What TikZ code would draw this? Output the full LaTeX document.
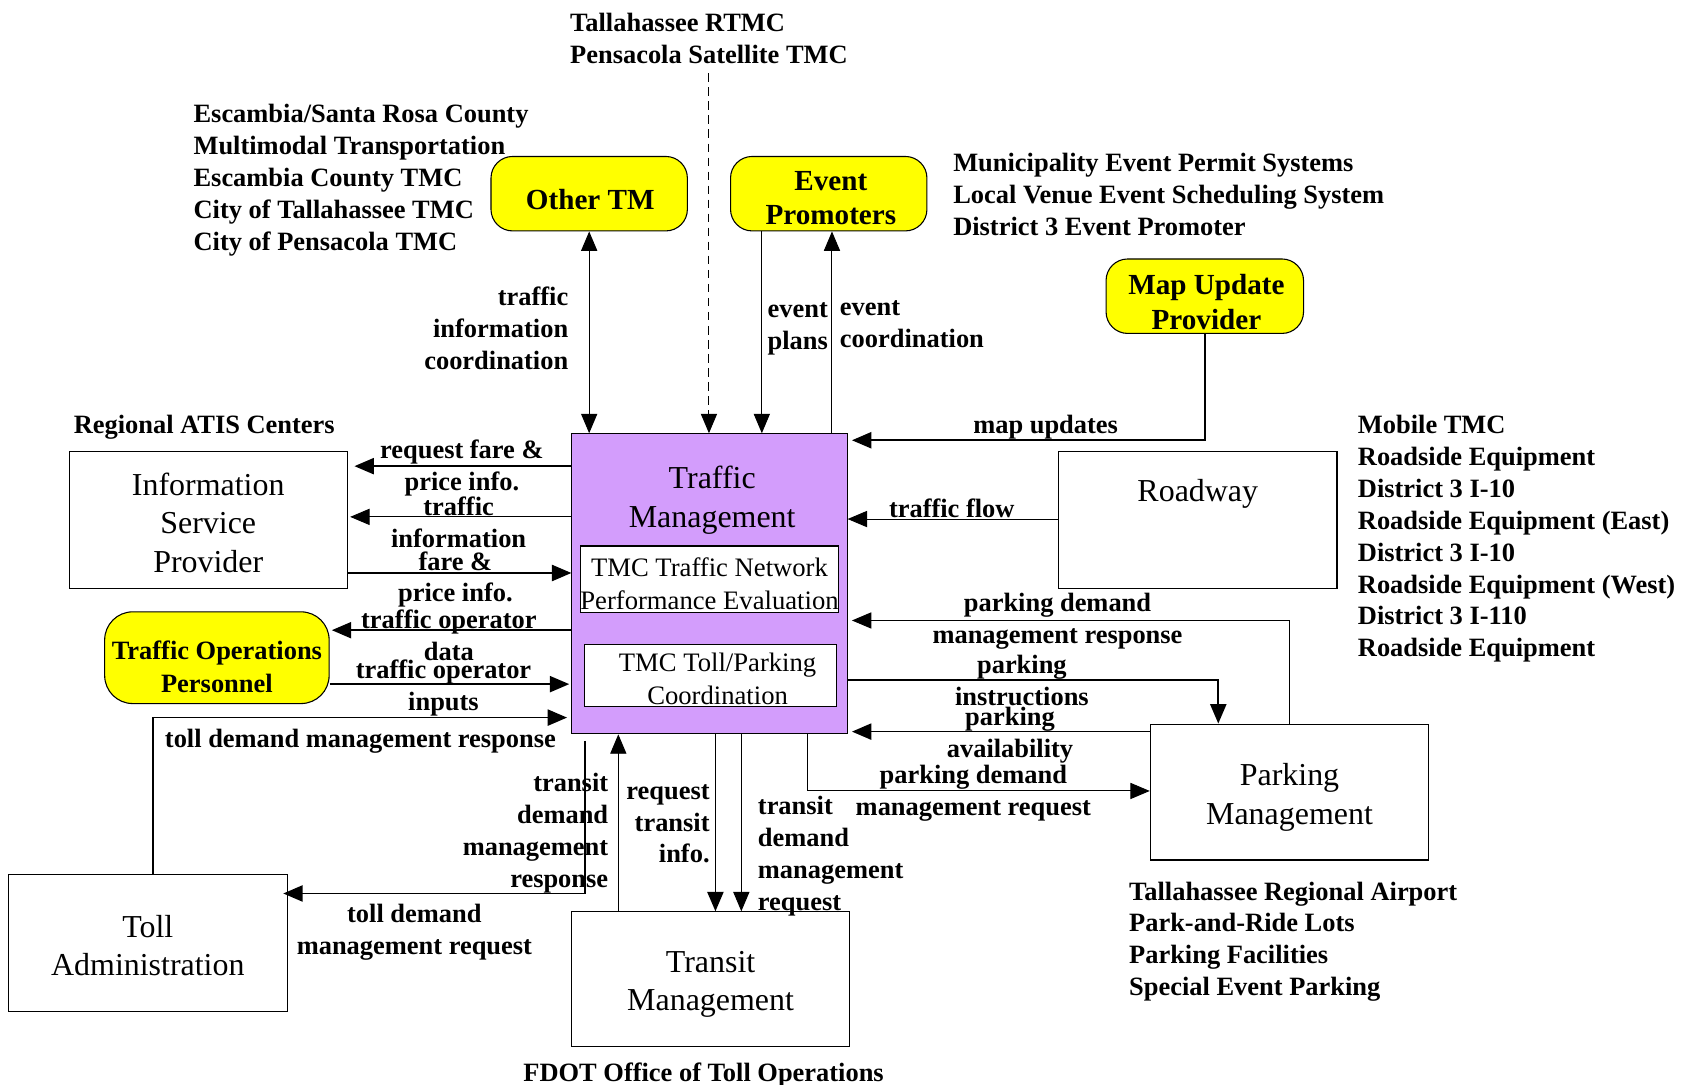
\documentclass[tikz,border=0pt]{standalone}
\usepackage{fontspec}
\setmainfont{Liberation Serif}
\usetikzlibrary{arrows.meta}
\definecolor{tmpurple}{RGB}{211,157,252}
\definecolor{ylw}{RGB}{255,255,0}
\tikzset{
  box/.style={draw, line width=0.5pt, inner sep=0pt},
  btext/.style={inner sep=0pt, align=center, font=\fontsize{14.8}{17.75}\selectfont},
  subtext/.style={inner sep=0pt, align=center, font=\fontsize{12.35}{15}\selectfont},
  ybox/.style={draw, fill=ylw, rounded corners=10pt, line width=0.5pt, inner sep=0pt},
  ytext/.style={inner sep=0pt, align=center, font=\fontsize{13.5}{16}\selectfont\bfseries},
  lab/.style={inner sep=0pt, yshift=-1.5pt, font=\fontsize{12.25}{14.75}\selectfont\bfseries},
  arr/.style={-{Triangle[length=9pt,width=7.5pt]}, line width=0.8pt},
  thinarr/.style={-{Triangle[length=9pt,width=7.5pt]}, line width=0.45pt},
  dblarr/.style={{Triangle[length=9pt,width=7.5pt]}-{Triangle[length=9pt,width=7.5pt]}, line width=0.45pt},
}
\begin{document}
\begin{tikzpicture}[x=0.5pt,y=-0.5pt]
\useasboundingbox (0,0) rectangle (1568,1005);

% ---- boxes ----
\node[box, fill=tmpurple, minimum width=127.5pt, minimum height=139pt] (tm) at (657.5,541) {};
\node[btext] (tmtitle) at (660,463.5) {Traffic\\Management};
\node[box, fill=white, minimum width=119.5pt, minimum height=31pt] (sub1) at (657.5,537) {};
\node[subtext] (sub1t) at (657.5,541) {TMC Traffic Network\\Performance Evaluation};
\node[box, fill=white, minimum width=116.5pt, minimum height=29pt] (sub2) at (658.5,626) {};
\node[subtext] (sub2t) at (665,629) {TMC Toll/Parking\\Coordination};

\node[box, minimum width=129pt, minimum height=63.5pt] (isp) at (193,481.5) {};
\node[btext] (ispt) at (193,484.5) {Information\\Service\\Provider};
\node[box, minimum width=129pt, minimum height=63.5pt] (roadway) at (1110,481.5) {};
\node[btext] (roadwayt) at (1110,458) {Roadway};
\node[box, minimum width=129pt, minimum height=63.5pt] (toll) at (137,873.5) {};
\node[btext] (tollt) at (137,876) {Toll\\Administration};
\node[box, minimum width=128.5pt, minimum height=62.5pt] (transit) at (658.5,907.5) {};
\node[btext] (transitt) at (658.5,912) {Transit\\Management};
\node[box, minimum width=129pt, minimum height=63pt] (parking) at (1195,734) {};
\node[btext] (parkingt) at (1195,739) {Parking\\Management};

\node[ybox, minimum width=91pt, minimum height=34.5pt] (othertm) at (546,179.5) {};
\node[ytext] (othertmt) at (547,185) {Other TM};
\node[ybox, minimum width=91pt, minimum height=34.5pt] (evprom) at (768,179.5) {};
\node[ytext] (evpromt) at (770,183.5) {Event\\Promoters};
\node[ybox, minimum width=91.5pt, minimum height=34.5pt] (mapup) at (1116.5,274.5) {};
\node[ytext] (mapupt) at (1118,280) {Map Update\\Provider};
\node[ybox, rounded corners=13pt, minimum width=104pt, minimum height=42.5pt] (top) at (201,609.5) {};
\node[ytext, font=\fontsize{12.25}{15}\selectfont\bfseries] (topt) at (201,618) {Traffic Operations\\Personnel};

% ---- text lists ----
\node[lab, anchor=west, align=left] (tallah) at (528,32.5) {Tallahassee RTMC\\Pensacola Satellite TMC};
\node[lab, anchor=west, align=left] (escam) at (179,164) {Escambia/Santa Rosa County\\Multimodal Transportation\\Escambia County TMC\\City of Tallahassee TMC\\City of Pensacola TMC};
\node[lab, anchor=west, align=left] (munic) at (883,177.5) {Municipality Event Permit Systems\\Local Venue Event Scheduling System\\District 3 Event Promoter};
\node[lab, anchor=west, align=left] (mobile) at (1258,496.5) {Mobile TMC\\Roadside Equipment\\District 3 I-10\\Roadside Equipment (East)\\District 3 I-10\\Roadside Equipment (West)\\District 3 I-110\\Roadside Equipment};
\node[lab, anchor=west, align=left] (airport) at (1046,869.5) {Tallahassee Regional Airport\\Park-and-Ride Lots\\Parking Facilities\\Special Event Parking};
\node[lab, anchor=west] (atis) at (68,393) {Regional ATIS Centers};
\node[lab] (fdot) at (652,993) {FDOT Office of Toll Operations};

% ---- connectors ----
\coordinate (dashstart) at (657,68);
\draw[thinarr, dashed, dash pattern=on 4pt off 2.5pt] (dashstart) -- (tm.north -| dashstart);
\draw[dblarr] (othertm.south) -- (tm.north -| othertm.south);
\draw[thinarr] (evprom.south -| 706,0) -- (tm.north -| 706,0);
\draw[thinarr] (tm.north -| 771,0) -- (evprom.south -| 771,0);
\draw[arr] (mapup.south) |- ([xshift=2pt]tm.east |- 0,408);
\draw[thinarr] (roadway.west |- 0,481) -- (tm.east |- 0,481);
\draw[thinarr] (parking.north) |- ([xshift=2pt]tm.east |- 0,575);
\draw[arr] (tm.east |- 0,630) -| (parking.north -| 1129,0);
\draw[arr] (parking.west |- 0,678) -- ([xshift=2pt]tm.east |- 0,678);
\draw[thinarr] (tm.south -| 748,0) |- (parking.west |- 0,733);
\draw[arr] (tm.south -| 663,0) -- (transit.north -| 663,0);
\draw[thinarr] (tm.south -| 687,0) -- (transit.north -| 687,0);
\draw[thinarr] (transit.north -| 573,0) -- (tm.south -| 573,0);
\draw[arr] ([yshift=-3pt]tm.south -| 542,0) |- ([xshift=-2pt]toll.east |- 0,828);
\draw[arr] (toll.north -| 142,0) |- ([xshift=-2pt]tm.west |- 0,665);
\draw[arr] (top.east |- 0,634) -- ([xshift=-1pt]tm.west |- 0,634);
\draw[arr] (tm.west |- 0,584) -- ([xshift=1pt]top.east |- 0,584);
\draw[arr] (isp.east |- 0,531) -- (tm.west |- 0,531);
\draw[thinarr] (tm.west |- 0,479) -- ([xshift=1pt]isp.east |- 0,479);
\draw[arr] (tm.west |- 0,432) -- ([xshift=3pt]isp.east |- 0,432);

% ---- flow labels ----
\node[lab, anchor=east, align=right] (l1) at (527,301) {traffic\\information\\coordination};
\node[lab, anchor=west, align=left] (l2) at (711,302) {event\\plans};
\node[lab, anchor=west, align=left] (l3) at (778,297.5) {event\\coordination};
\node[lab] (l4) at (969,393) {map updates};
\node[lab, align=center] (l5) at (428,431) {request fare \&\\price info.};
\node[lab, align=center] (l6) at (425,481) {traffic\\information};
\node[lab, align=center] (l7) at (422,534) {fare \&\\price info.};
\node[lab, align=center] (l8) at (416,585.5) {traffic operator\\data};
\node[lab, align=center] (l9) at (411,634.5) {traffic operator\\inputs};
\node[lab] (l10) at (334,684) {toll demand management response};
\node[lab, align=center] (l11) at (384,861) {toll demand\\management request};
\node[lab, anchor=east, align=right] (l12) at (564,769) {transit\\demand\\management\\response};
\node[lab, anchor=east, align=right] (l13) at (658,760.5) {request\\transit\\info.};
\node[lab, anchor=west, align=left] (l14) at (702,790.5) {transit\\demand\\management\\request};
\node[lab, align=center] (l15) at (902,732) {parking demand\\management request};
\node[lab, align=center] (l16) at (936,678.5) {parking\\availability};
\node[lab, align=center] (l17) at (947,627.5) {parking\\instructions};
\node[lab, align=center] (l18) at (980,573) {parking demand\\management response};
\node[lab] (l19) at (882,468) {traffic flow};
\end{tikzpicture}
\end{document}
